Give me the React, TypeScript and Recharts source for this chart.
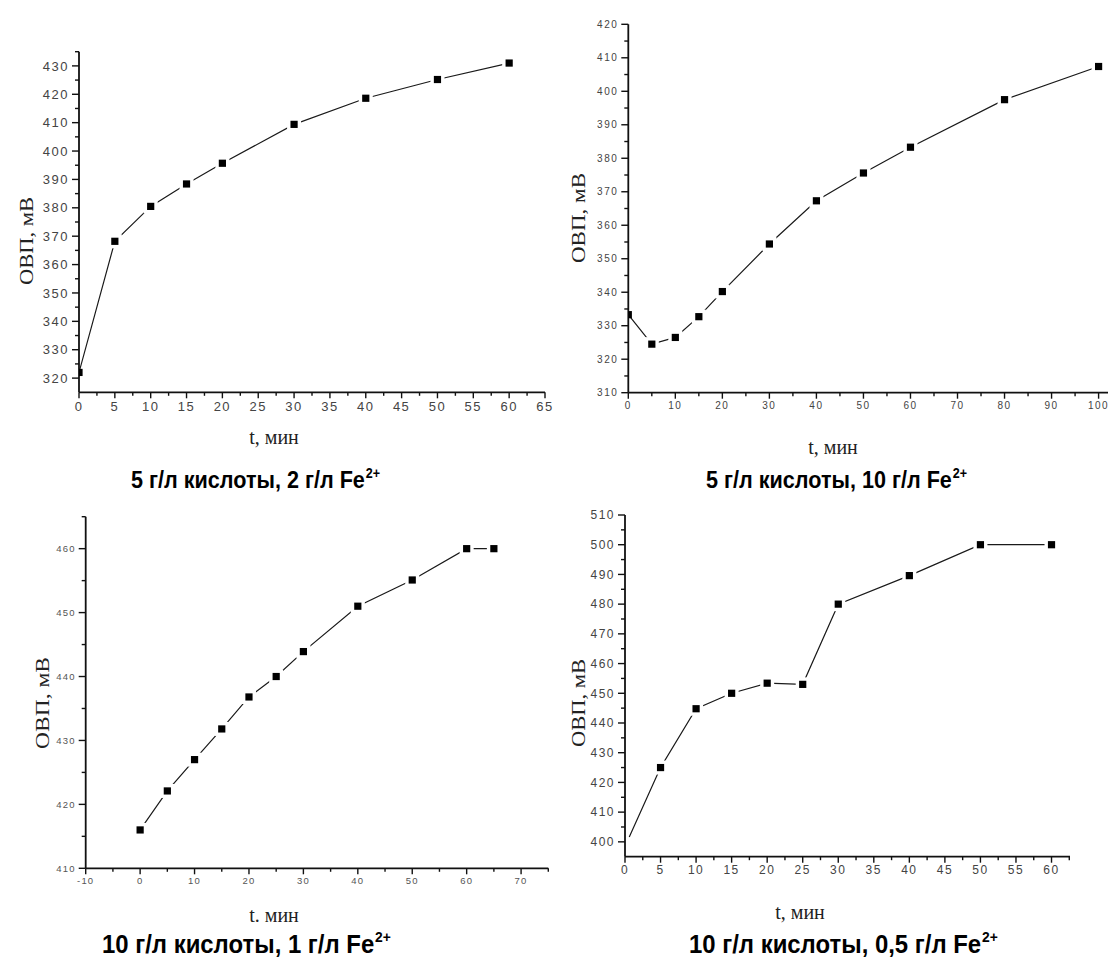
import React from 'react';
import { LineChart, Line, XAxis, YAxis } from 'recharts';

// ---- Panel 1: 5 г/л кислоты, 2 г/л Fe2+ ----
const time1 = [0, 5, 10, 15, 20, 30, 40, 50, 60];
const orp1 = [322, 368.2, 380.5, 388.4, 395.7, 409.4, 418.6, 425.2, 431];
const x1Major = [0, 5, 10, 15, 20, 25, 30, 35, 40, 45, 50, 55, 60, 65];
const x1Minor = [2.5, 7.5, 12.5, 17.5, 22.5, 27.5, 32.5, 37.5, 42.5, 47.5, 52.5, 57.5, 62.5];
const y1Major = [320, 330, 340, 350, 360, 370, 380, 390, 400, 410, 420, 430];
const y1Minor = [325, 335, 345, 355, 365, 375, 385, 395, 405, 415, 425, 435];

// ---- Panel 2: 5 г/л кислоты, 10 г/л Fe2+ ----
const time2 = [0, 5, 10, 15, 20, 30, 40, 50, 60, 80, 100];
const orp2 = [333.3, 324.5, 326.5, 332.7, 340.2, 354.4, 367.3, 375.6, 383.3, 397.5, 407.4];
const x2Major = [0, 10, 20, 30, 40, 50, 60, 70, 80, 90, 100];
const x2Minor = [5, 15, 25, 35, 45, 55, 65, 75, 85, 95];
const y2Major = [310, 320, 330, 340, 350, 360, 370, 380, 390, 400, 410, 420];
const y2Minor = [315, 325, 335, 345, 355, 365, 375, 385, 395, 405, 415];

// ---- Panel 3: 10 г/л кислоты, 1 г/л Fe2+ ----
const time3 = [0, 5, 10, 15, 20, 25, 30, 40, 50, 60, 65];
const orp3 = [416, 422.1, 427, 431.8, 436.8, 440, 443.9, 451, 455.1, 460, 460];
const x3Major = [-10, 0, 10, 20, 30, 40, 50, 60, 70];
const x3Minor = [-5, 5, 15, 25, 35, 45, 55, 65, 75];
const y3Major = [410, 420, 430, 440, 450, 460];
const y3Minor = [415, 425, 435, 445, 455, 465];

// ---- Panel 4: 10 г/л кислоты, 0,5 г/л Fe2+ ----
const time4 = [0.6, 5, 10, 15, 20, 25, 30, 40, 50, 60];
const orp4 = [401.6, 425, 444.8, 450, 453.4, 453, 480, 489.6, 500, 500];
const x4Major = [0, 5, 10, 15, 20, 25, 30, 35, 40, 45, 50, 55, 60];
const x4Minor = [2.5, 7.5, 12.5, 17.5, 22.5, 27.5, 32.5, 37.5, 42.5, 47.5, 52.5, 57.5, 62.5];
const y4Major = [400, 410, 420, 430, 440, 450, 460, 470, 480, 490, 500, 510];
const y4Minor = [405, 415, 425, 435, 445, 455, 465, 475, 485, 495, 505];

const zip = (t: number[], v: number[]) => t.map((tt, i) => ({ t: tt, v: v[i] }));

const AXIS = '#111';
const TICK_FONT = "'Liberation Sans', Arial, sans-serif";
const YW = 60;
const XH = 40;

type Rect = { left: number; top: number; width: number; height: number };
type Plot = { left: number; top: number; right: number; bottom: number };

type PanelProps = {
  data: { t: number; v: number }[];
  box: Rect;
  plot: Plot;
  xDomain: [number, number];
  yDomain: [number, number];
  xMajor: number[];
  xMinor: number[];
  yMajor: number[];
  yMinor: number[];
  fontSize: number;
  letterSpacing: number;
  labelColor: string;
  noHalo?: number[];
  noMarker?: number[];
};

function Panel(p: PanelProps) {
  const margin = {
    left: p.plot.left - p.box.left - YW,
    top: p.plot.top - p.box.top,
    right: p.box.left + p.box.width - p.plot.right,
    bottom: p.box.top + p.box.height - p.plot.bottom - XH,
  };
  const xTicks = [...p.xMajor, ...p.xMinor].sort((a, b) => a - b);
  const yTicks = [...p.yMajor, ...p.yMinor].sort((a, b) => a - b);

  const renderYTick = (tp: any) => {
    const { x, y, payload } = tp;
    const major = p.yMajor.includes(payload.value);
    const len = major ? 7 : 4;
    return (
      <g key={`yt-${payload.value}`}>
        <line x1={x - len} x2={x} y1={y} y2={y} stroke={AXIS} strokeWidth={1.4} />
        {major && (
          <text
            x={x - len - 3}
            y={y}
            dy="0.36em"
            textAnchor="end"
            fontSize={p.fontSize}
            fontFamily={TICK_FONT}
            letterSpacing={p.letterSpacing}
            fill={p.labelColor}
          >
            {payload.value}
          </text>
        )}
      </g>
    );
  };

  const renderXTick = (tp: any) => {
    const { x, y, payload } = tp;
    const major = p.xMajor.includes(payload.value);
    const len = major ? 6 : 3.5;
    return (
      <g key={`xt-${payload.value}`}>
        <line x1={x} x2={x} y1={y} y2={y + len} stroke={AXIS} strokeWidth={1.4} />
        {major && (
          <text
            x={x}
            y={y + 9}
            dy="0.72em"
            textAnchor="middle"
            fontSize={p.fontSize}
            fontFamily={TICK_FONT}
            letterSpacing={p.letterSpacing}
            fill={p.labelColor}
          >
            {payload.value}
          </text>
        )}
      </g>
    );
  };

  // square marker with a small white gap around it
  const renderDot = (dp: any) => {
    const { cx, cy, index } = dp;
    if (cx == null || cy == null || (p.noMarker && p.noMarker.includes(index))) {
      return <g key={`d-${index}`} />;
    }
    const halo = !(p.noHalo && p.noHalo.includes(index));
    return (
      <g key={`d-${index}`}>
        {halo && <rect x={cx - 7} y={cy - 7} width={14} height={14} fill="#fff" />}
        <rect x={cx - 3.6} y={cy - 3.6} width={7.2} height={7.2} fill="#000" />
      </g>
    );
  };

  return (
    <div style={{ position: 'absolute', left: p.box.left, top: p.box.top }}>
      <LineChart width={p.box.width} height={p.box.height} data={p.data} margin={margin}>
        <XAxis
          dataKey="t"
          type="number"
          domain={p.xDomain}
          allowDataOverflow
          ticks={xTicks}
          interval={0}
          height={XH}
          tickSize={0}
          tickMargin={0}
          tickLine={false}
          axisLine={{ stroke: AXIS, strokeWidth: 1.8 }}
          tick={renderXTick}
        />
        <YAxis
          dataKey="v"
          type="number"
          domain={p.yDomain}
          allowDataOverflow
          ticks={yTicks}
          interval={0}
          width={YW}
          tickSize={0}
          tickMargin={0}
          tickLine={false}
          axisLine={{ stroke: AXIS, strokeWidth: 1.8 }}
          tick={renderYTick}
        />
        <Line
          dataKey="v"
          type="linear"
          stroke="#1a1a1a"
          strokeWidth={1.2}
          dot={renderDot}
          activeDot={false}
          isAnimationActive={false}
        />
      </LineChart>
    </div>
  );
}

const SERIF = "'Liberation Serif', 'Times New Roman', serif";
const CAPTION_FONT = "'Liberation Sans', Arial, sans-serif";

function YTitle({ x, y, len }: { x: number; y: number; len: number }) {
  return (
    <text
      transform={`translate(${x},${y}) rotate(-90)`}
      textAnchor="middle"
      dy="0.35em"
      fontFamily={SERIF}
      fontSize={19}
      fill="#222"
      textLength={len}
      lengthAdjust="spacingAndGlyphs"
    >
      ОВП, мВ
    </text>
  );
}

function XTitle({ x, y, text }: { x: number; y: number; text: string }) {
  return (
    <text x={x} y={y} dy="0.35em" textAnchor="middle" fontFamily={SERIF} fontSize={20} fill="#222">
      {text}
    </text>
  );
}

// bold condensed caption: a regular bold face squeezed horizontally
function Caption({ x, y, text, size, squeeze }: { x: number; y: number; text: string; size: number; squeeze: number }) {
  return (
    <g transform={`translate(${x},${y}) scale(${squeeze},1)`}>
      <text x={0} y={0} fontFamily={CAPTION_FONT} fontWeight="bold" fontSize={size} fill="#000">
        {text}
        <tspan fontSize={size * 0.58} dx={1} dy={-size * 0.42}>2+</tspan>
      </text>
    </g>
  );
}

export default function App() {
  return (
    <div
      style={{
        position: 'absolute',
        left: 0,
        top: 0,
        width: 1113,
        height: 958,
        background: '#fff',
        overflow: 'hidden',
      }}
    >
      <Panel
        data={zip(time1, orp1)}
        box={{ left: 0, top: 0, width: 556, height: 479 }}
        plot={{ left: 79, top: 51.7, right: 545, bottom: 392.3 }}
        xDomain={[0, 65]}
        yDomain={[315, 435]}
        xMajor={x1Major}
        xMinor={x1Minor}
        yMajor={y1Major}
        yMinor={y1Minor}
        fontSize={13}
        letterSpacing={1.5}
        labelColor="#444"
        noHalo={[0]}
      />
      <Panel
        data={zip(time2, orp2)}
        box={{ left: 556, top: 0, width: 557, height: 479 }}
        plot={{ left: 628.3, top: 24.3, right: 1108, bottom: 392.7 }}
        xDomain={[0, 102]}
        yDomain={[310, 420]}
        xMajor={x2Major}
        xMinor={x2Minor}
        yMajor={y2Major}
        yMinor={y2Minor}
        fontSize={10}
        letterSpacing={1.5}
        labelColor="#444"
        noHalo={[0]}
      />
      <Panel
        data={zip(time3, orp3)}
        box={{ left: 0, top: 479, width: 556, height: 479 }}
        plot={{ left: 85.7, top: 516.7, right: 548.3, bottom: 868.3 }}
        xDomain={[-10, 75]}
        yDomain={[410, 465]}
        xMajor={x3Major}
        xMinor={x3Minor}
        yMajor={y3Major}
        yMinor={y3Minor}
        fontSize={9.5}
        letterSpacing={1.2}
        labelColor="#555"
      />
      <Panel
        data={zip(time4, orp4)}
        box={{ left: 556, top: 479, width: 557, height: 479 }}
        plot={{ left: 625, top: 515, right: 1070, bottom: 856.7 }}
        xDomain={[0, 62.6]}
        yDomain={[395, 510]}
        xMajor={x4Major}
        xMinor={x4Minor}
        yMajor={y4Major}
        yMinor={y4Minor}
        fontSize={12}
        letterSpacing={1.5}
        labelColor="#444"
        noMarker={[0]}
      />
      <svg
        width={1113}
        height={958}
        style={{ position: 'absolute', left: 0, top: 0, pointerEvents: 'none' }}
      >
        <YTitle x={26} y={241} len={88} />
        <YTitle x={578} y={218} len={90} />
        <YTitle x={42} y={703} len={92} />
        <YTitle x={578} y={703} len={88} />

        <XTitle x={274} y={437} text="t, мин" />
        <XTitle x={833} y={447} text="t, мин" />
        <XTitle x={274} y={915} text="t. мин" />
        <XTitle x={800} y={912} text="t, мин" />

        <Caption x={131} y={488} text="5 г/л кислоты, 2 г/л Fe" size={24} squeeze={0.9} />
        <Caption x={706} y={488} text="5 г/л кислоты, 10 г/л Fe" size={24} squeeze={0.9} />
        <Caption x={102} y={953} text="10 г/л кислоты, 1 г/л Fe" size={26} squeeze={0.92} />
        <Caption x={689} y={953} text="10 г/л кислоты, 0,5 г/л Fe" size={26} squeeze={0.92} />
      </svg>
    </div>
  );
}
